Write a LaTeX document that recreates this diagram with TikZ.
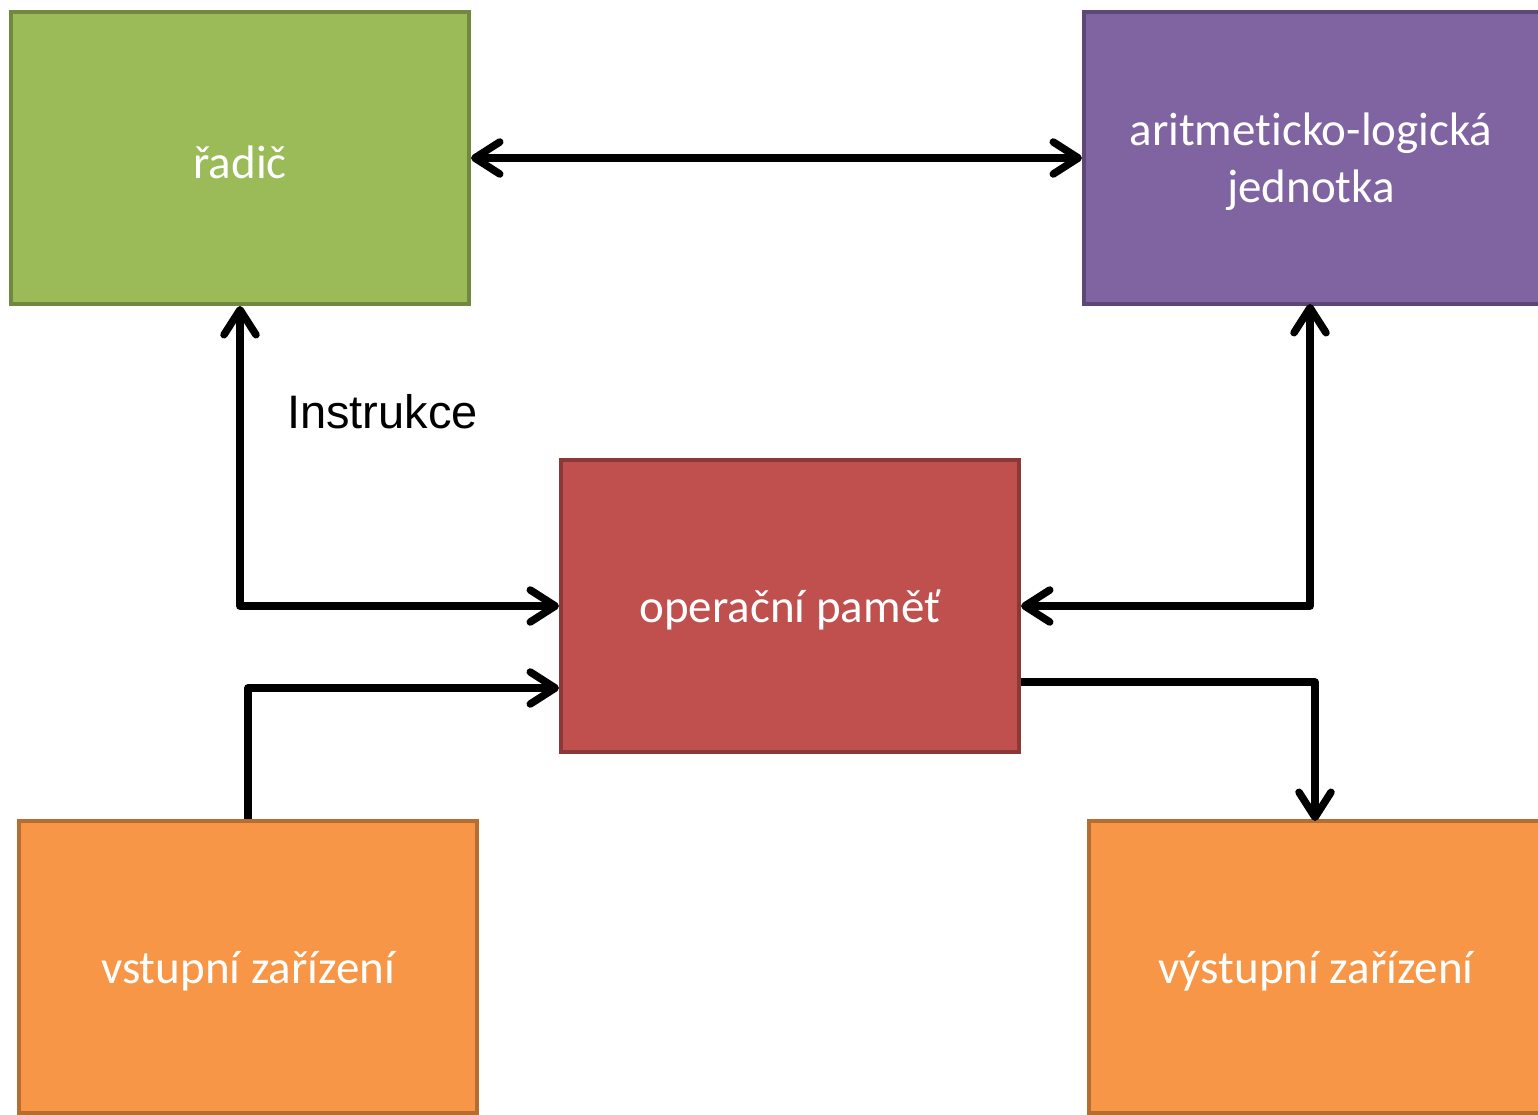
\documentclass[tikz,border=0pt]{standalone}
\usepackage{fontspec}
\setmainfont{Carlito}[Ligatures=NoCommon]
\newfontfamily\arialfont{Liberation Sans}
\usetikzlibrary{arrows.meta}
\definecolor{gfill}{HTML}{9BBB59}\definecolor{gline}{HTML}{71893F}
\definecolor{pfill}{HTML}{8064A2}\definecolor{pline}{HTML}{5C4776}
\definecolor{rfill}{HTML}{C0504D}\definecolor{rline}{HTML}{8C3836}
\definecolor{ofill}{HTML}{F79646}\definecolor{oline}{HTML}{B66D31}
\tikzset{
  box/.style={rectangle, line width=4pt, minimum height=292pt, inner sep=0pt},
  lbl/.style={text=white, align=center, inner sep=0pt,
    font=\fontsize{47}{57}\selectfont},
  tip/.tip={Straight Barb[length=25pt,width=32pt,line cap=round,line join=round]},
  conn/.style={line width=7.5pt, line join=round, -tip},
  bconn/.style={line width=7.5pt, line join=round, tip-tip},
}
\begin{document}
\begin{tikzpicture}[x=1pt,y=-1pt]
\useasboundingbox (0,0) rectangle (1538,1115);
\clip (0,0) rectangle (1538,1115);
\node[box, fill=gfill, draw=gline, minimum width=458pt] (radic) at (240,158) {};
\node[box, fill=pfill, draw=pline, minimum width=560pt, anchor=west] (alu) at (1082,158) {};
\node[box, fill=rfill, draw=rline, minimum width=458pt] (mem) at (790,606) {};
\node[box, fill=ofill, draw=oline, minimum width=458pt] (vstup) at (248,967) {};
\node[box, fill=ofill, draw=oline, minimum width=560pt, anchor=west] (vystup) at (1087,967) {};
\node[lbl] (tradic) at (240,162) {řadič};
\node[lbl] (talu) at (1311,162) {aritmeticko-logická\\jednotka};
\node[lbl] (tmem) at (790,610) {operační paměť};
\node[lbl] (tvstup) at (248,971) {vstupní zařízení};
\node[lbl] (tvystup) at (1316,971) {výstupní zařízení};
\node[anchor=base west, inner sep=0pt, font=\arialfont\fontsize{47}{57}\selectfont] (instr) at (287,428) {Instrukce};
\coordinate (alus) at (1310,304);
\coordinate (vyn) at (1315,821);
\draw[bconn] (radic.east) -- (alu.west);
\draw[bconn] (radic.south) -- (radic.south |- mem.west) -- (mem.west);
\draw[bconn] (alus) -- (alus |- mem.east) -- (mem.east);
\draw[conn] (vstup.north) -- (vstup.north |- 0,688) -- (mem.west |- 0,688);
\draw[conn] (mem.east |- 0,682) -- (vyn |- 0,682) -- (vyn);
\end{tikzpicture}
\end{document}
